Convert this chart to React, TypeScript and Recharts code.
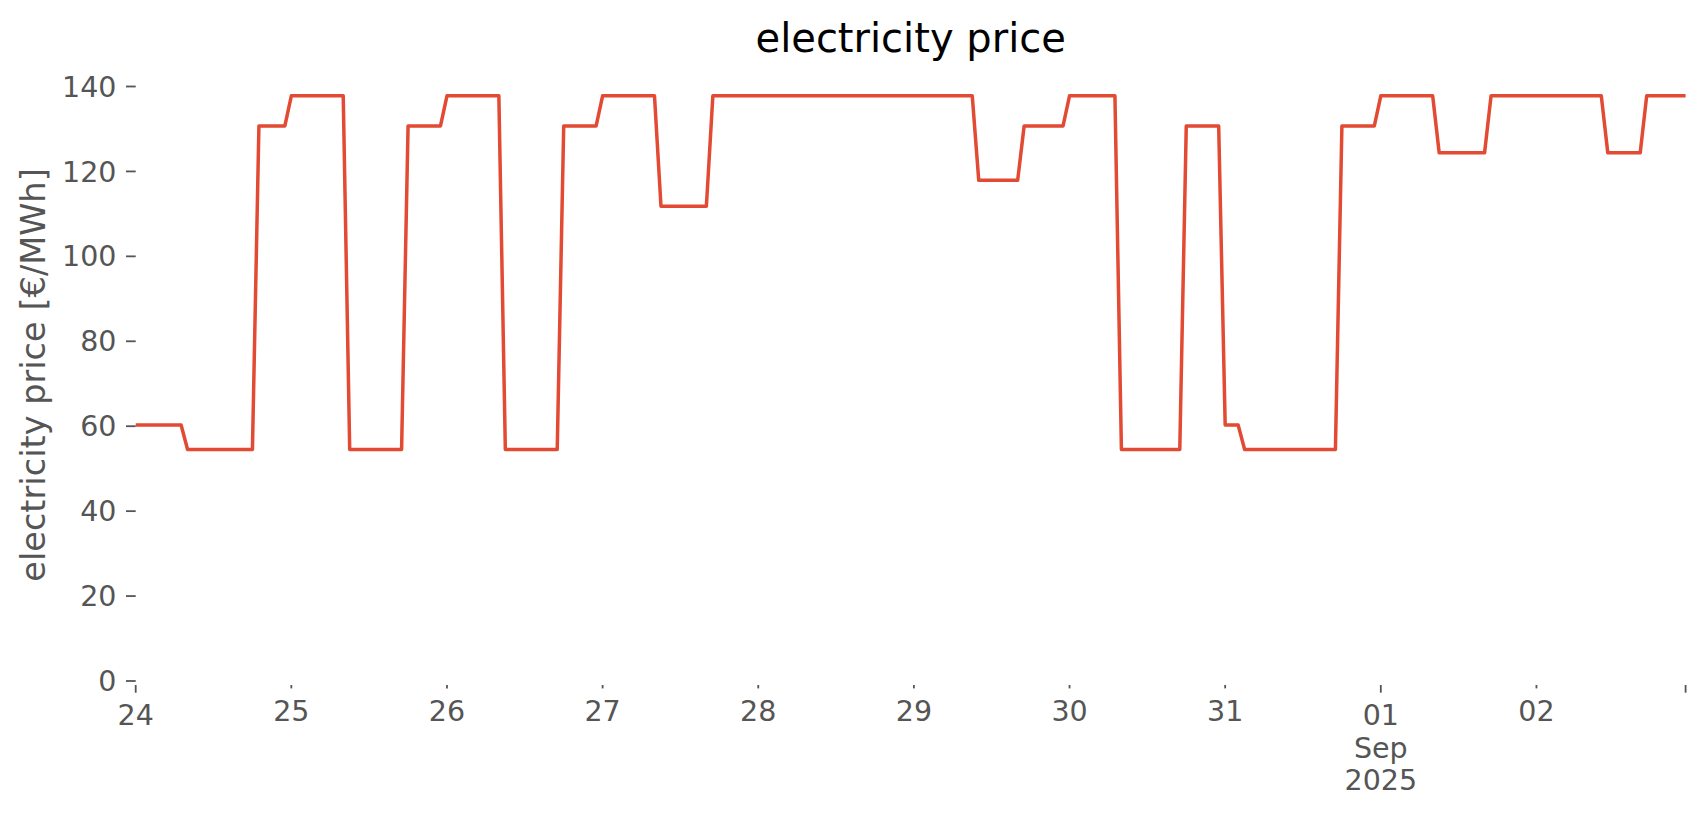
import { Line, LineChart, XAxis, YAxis } from "recharts";

// hourly day-ahead price, Aug 24 00:00 .. Sep 2 23:00 (€/MWh)
const aug24 = [60.3, 60.3, 60.3, 60.3, 60.3, 60.3, 60.3, 60.3, 54.5, 54.5, 54.5, 54.5, 54.5, 54.5, 54.5, 54.5, 54.5, 54.5, 54.5, 130.7, 130.7, 130.7, 130.7, 130.7];
const aug25 = [137.8, 137.8, 137.8, 137.8, 137.8, 137.8, 137.8, 137.8, 137.8, 54.5, 54.5, 54.5, 54.5, 54.5, 54.5, 54.5, 54.5, 54.5, 130.7, 130.7, 130.7, 130.7, 130.7, 130.7];
const aug26 = [137.8, 137.8, 137.8, 137.8, 137.8, 137.8, 137.8, 137.8, 137.8, 54.5, 54.5, 54.5, 54.5, 54.5, 54.5, 54.5, 54.5, 54.5, 130.7, 130.7, 130.7, 130.7, 130.7, 130.7];
const aug27 = [137.8, 137.8, 137.8, 137.8, 137.8, 137.8, 137.8, 137.8, 137.8, 111.8, 111.8, 111.8, 111.8, 111.8, 111.8, 111.8, 111.8, 137.8, 137.8, 137.8, 137.8, 137.8, 137.8, 137.8];
const aug28 = [137.8, 137.8, 137.8, 137.8, 137.8, 137.8, 137.8, 137.8, 137.8, 137.8, 137.8, 137.8, 137.8, 137.8, 137.8, 137.8, 137.8, 137.8, 137.8, 137.8, 137.8, 137.8, 137.8, 137.8];
const aug29 = [137.8, 137.8, 137.8, 137.8, 137.8, 137.8, 137.8, 137.8, 137.8, 137.8, 117.9, 117.9, 117.9, 117.9, 117.9, 117.9, 117.9, 130.7, 130.7, 130.7, 130.7, 130.7, 130.7, 130.7];
const aug30 = [137.8, 137.8, 137.8, 137.8, 137.8, 137.8, 137.8, 137.8, 54.5, 54.5, 54.5, 54.5, 54.5, 54.5, 54.5, 54.5, 54.5, 54.5, 130.7, 130.7, 130.7, 130.7, 130.7, 130.7];
const aug31 = [60.3, 60.3, 60.3, 54.5, 54.5, 54.5, 54.5, 54.5, 54.5, 54.5, 54.5, 54.5, 54.5, 54.5, 54.5, 54.5, 54.5, 54.5, 130.7, 130.7, 130.7, 130.7, 130.7, 130.7];
const sep01 = [137.8, 137.8, 137.8, 137.8, 137.8, 137.8, 137.8, 137.8, 137.8, 124.4, 124.4, 124.4, 124.4, 124.4, 124.4, 124.4, 124.4, 137.8, 137.8, 137.8, 137.8, 137.8, 137.8, 137.8];
const sep02 = [137.8, 137.8, 137.8, 137.8, 137.8, 137.8, 137.8, 137.8, 137.8, 137.8, 137.8, 124.4, 124.4, 124.4, 124.4, 124.4, 124.4, 137.8, 137.8, 137.8, 137.8, 137.8, 137.8, 137.8];

const days = [aug24, aug25, aug26, aug27, aug28, aug29, aug30, aug31, sep01, sep02];

// x ticks: hour offsets from Aug 24 00:00 and their labels
const xTickHours = [0, 24, 48, 72, 96, 120, 144, 168, 192, 216, 239];
const xTickLabels = ["24", "25", "26", "27", "28", "29", "30", "31", "01", "02", ""];
const xMajorHours = [0, 192, 239];
const yTicks = [0, 20, 40, 60, 80, 100, 120, 140];

const data = days.flatMap((day, d) =>
	day.map((price, h) => ({ hour: d * 24 + h, price })),
);

const FONT = "DejaVu Sans";
const GREY = "#555555";
const TICK_FONT = 28.5;

function DayTick(props: any) {
	const { x, y, payload } = props;
	const i = xTickHours.indexOf(payload.value);
	const label = xTickLabels[i] ?? "";
	const major = xMajorHours.includes(payload.value);
	const len = major ? 7.7 : 3.4;
	const base = major ? 44 : 40;
	return (
		<g>
			<line
				x1={x}
				x2={x}
				y1={y + 4}
				y2={y + 4 + len}
				stroke={GREY}
				strokeWidth={1.8}
			/>
			<text
				x={x}
				y={y + base}
				textAnchor="middle"
				fontFamily={FONT}
				fontSize={TICK_FONT}
				fill={GREY}
			>
				{label}
			</text>
			{label === "01" && (
				<>
					<text
						x={x}
						y={y + base + 33}
						textAnchor="middle"
						fontFamily={FONT}
						fontSize={TICK_FONT}
						fill={GREY}
					>
						Sep
					</text>
					<text
						x={x}
						y={y + base + 65}
						textAnchor="middle"
						fontFamily={FONT}
						fontSize={TICK_FONT}
						fill={GREY}
					>
						2025
					</text>
				</>
			)}
		</g>
	);
}

export default function App() {
	return (
		<div
			style={{
				position: "absolute",
				left: 0,
				top: 0,
				width: 1706,
				height: 815,
				background: "#fff",
			}}
		>
			<LineChart
				width={1706}
				height={815}
				data={data}
				margin={{ top: 86.5, right: 20.4, bottom: 0, left: 0 }}
			>
				<XAxis
					type="number"
					dataKey="hour"
					domain={[0, 239]}
					ticks={xTickHours}
					interval={0}
					tick={<DayTick />}
					tickLine={false}
					axisLine={false}
					tickSize={0}
					tickMargin={0}
					height={134}
				/>
				<YAxis
					type="number"
					domain={[0, 140]}
					ticks={yTicks}
					interval={0}
					width={135.7}
					axisLine={false}
					tickSize={9.7}
					tickMargin={9.5}
					tickLine={{ stroke: GREY, strokeWidth: 1.8 }}
					tick={{ fill: GREY, fontSize: TICK_FONT, fontFamily: FONT }}
				/>
				<Line
					type="linear"
					dataKey="price"
					stroke="#E24A33"
					strokeWidth={3.5}
					strokeLinejoin="round"
					dot={false}
					activeDot={false}
					isAnimationActive={false}
				/>
			</LineChart>
			<svg
				width={1706}
				height={815}
				style={{ position: "absolute", left: 0, top: 0, pointerEvents: "none" }}
			>
				<text
					x={910.7}
					y={52}
					textAnchor="middle"
					fontFamily={FONT}
					fontSize={40}
					fill="#000"
				>
					electricity price
				</text>
				<text
					transform="translate(44.5, 375) rotate(-90)"
					textAnchor="middle"
					fontFamily={FONT}
					fontSize={33.6}
					fill={GREY}
				>
					electricity price [€/MWh]
				</text>
			</svg>
		</div>
	);
}
